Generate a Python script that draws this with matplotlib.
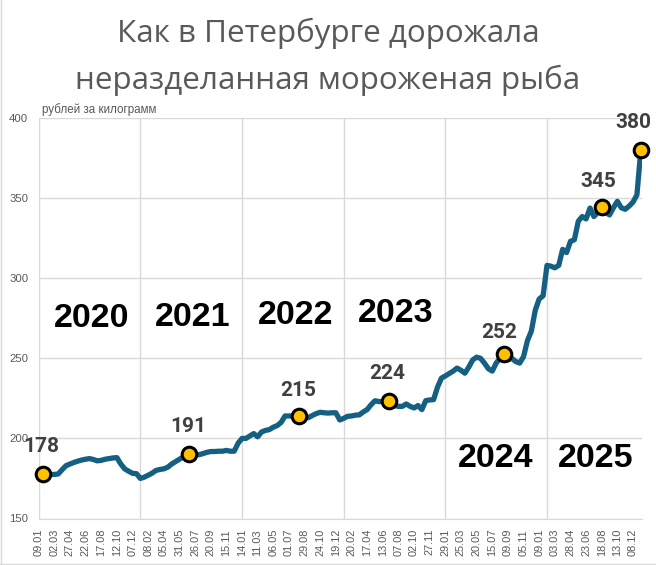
import numpy as np
import matplotlib
matplotlib.use('Agg')
import matplotlib.pyplot as plt
from matplotlib.lines import Line2D

# every second week, index from the first tick
prices = [177.5, 177.5, 177.5, 177.5, 177.8, 180.5, 183, 184, 185, 185.8,
          186.5, 187, 187.4, 186.8, 186, 186.3, 187, 187.4, 187.8, 188,
          184, 181, 179.5, 178.2, 178, 175, 175.8, 177, 178.3, 180,
          180.6, 181, 182, 184, 185.5, 187, 188.5, 190, 190.5, 190,
          189.8, 190.5, 191.3, 191.8, 191.8, 192, 192, 192.5, 192, 192,
          197, 200, 200, 201.5, 203, 201, 204, 205, 205.5, 207,
          208, 210, 214, 214, 214, 214, 214, 212.6, 213, 214.3,
          215.5, 216.3, 216, 215.8, 216, 216, 211.5, 212.5, 213.8, 214,
          214.5, 214.7, 216.5, 218, 221, 223.5, 223, 223, 223.2, 223.4,
          220.5, 220, 220, 221.5, 220, 219, 220.5, 218, 223.6, 224,
          224.2, 232, 237.6, 239, 240.5, 242, 243.9, 242.5, 240.7, 244.5,
          249, 250.7, 250, 247, 243.5, 242, 247, 250, 252.6, 249,
          250, 248, 247, 251, 261, 267, 280, 287, 289, 308,
          307.5, 306.5, 308, 318, 316, 323, 324, 335.5, 338.5, 337,
          343.8, 338.5, 341, 344.5, 341, 339.5, 344, 348, 344, 343,
          345, 347.5, 352, 380]
weeks = np.arange(2, 2 + 2 * len(prices), 2)

date_labels = ['09.01', '02.03', '27.04', '22.06', '17.08', '12.10', '07.12', '08.02',
               '05.04', '31.05', '26.07', '20.09', '15.11', '14.01', '11.03', '06.05',
               '01.07', '29.08', '24.10', '19.12', '20.02', '17.04', '13.06', '07.08',
               '02.10', '27.11', '29.01', '25.03', '20.05', '15.07', '09.09', '05.11',
               '09.01', '03.03', '28.04', '23.06', '18.08', '13.10', '08.12']
date_ticks = np.arange(len(date_labels)) * 8
year_lines = [0, 52, 104, 156, 208, 260]

marked_weeks = [2, 77, 133, 179, 238, 288, 308]
marked_labels = ['178', '191', '215', '224', '252', '345', '380']
# label offset from its marker, in pixels
label_dx = [-1, -1, -1, -1, -5, -3, -7]
label_dy = [28, 28, 25, 28, 22, 25, 28]

years = ['2020', '2021', '2022', '2023', '2024', '2025']
year_x = [27, 78.8, 131.5, 182.5, 233.5, 285]
year_y = [275, 275.5, 276.5, 278, 187.5, 187.5]

line1 = 'Как в Петербурге дорожала'
line2 = 'неразделанная мороженая рыба'
GREY = '#595959'
GRID = '#D9D9D9'

plt.rcParams['font.family'] = ['Liberation Sans', 'DejaVu Sans']

fig = plt.figure(figsize=(6.56, 5.65), dpi=100)
ax = fig.add_axes([38.7 / 656, 1 - 518.5 / 565, (642 - 38.7) / 656, 400.5 / 565])

for x in year_lines:
    ax.axvline(x, color=GRID, lw=1, zorder=1)
ax.grid(axis='y', color=GRID, lw=1, zorder=1)
ax.set_axisbelow(True)

ax.plot(weeks, prices, color='#156082', lw=3.8, solid_joinstyle='round',
        solid_capstyle='round', zorder=3)

marked_y = np.interp(marked_weeks, weeks, prices)
ax.plot(marked_weeks, marked_y, ls='none', marker='o', ms=10.5, mfc='#FFC000',
        mec='black', mew=2.2, clip_on=False, zorder=4)
for w, y, s, dx, dy in zip(marked_weeks, marked_y, marked_labels, label_dx, label_dy):
    ax.annotate(s, (w, y), xytext=(dx * 0.72, dy * 0.72), textcoords='offset points',
                ha='center', va='center', fontsize=15, family='Roboto',
                fontweight='bold', color='#404040', zorder=5)

for s, x, y in zip(years, year_x, year_y):
    ax.text(x, y, s, ha='center', va='center', fontsize=24.5, fontweight='bold', color='black')

ax.set_xlim(0, 308.6)
ax.set_ylim(150, 400)
ax.set_yticks([150, 200, 250, 300, 350, 400])
ax.set_xticks(date_ticks)
ax.set_xticklabels(date_labels, rotation=90)
ax.tick_params(axis='y', length=0, pad=7.5, labelsize=8.2, labelcolor=GREY)
ax.tick_params(axis='x', length=0, pad=7.5, labelsize=7.9, labelcolor=GREY)
for side in ['top', 'right', 'left']:
    ax.spines[side].set_visible(False)
ax.spines['bottom'].set_color(GRID)

fig.text(328 / 656, 1 - 33 / 565, line1, ha='center', va='center', fontsize=22.6,
         family='Open Sans', color=GREY)
fig.text(328 / 656, 1 - 80 / 565, line2, ha='center', va='center', fontsize=22.6,
         family='Open Sans', color=GREY)
fig.text(42 / 656, 1 - 110 / 565, 'рублей за килограмм', ha='left', va='center',
         fontsize=8.4, color=GREY)

# thin frame remains on the left and bottom edge of the picture
fig.add_artist(Line2D([0.001, 0.001], [0, 1], color=GRID, lw=1))
fig.add_artist(Line2D([0, 1], [0.002, 0.002], color=GRID, lw=1))

fig.savefig('out.png', dpi=100)
